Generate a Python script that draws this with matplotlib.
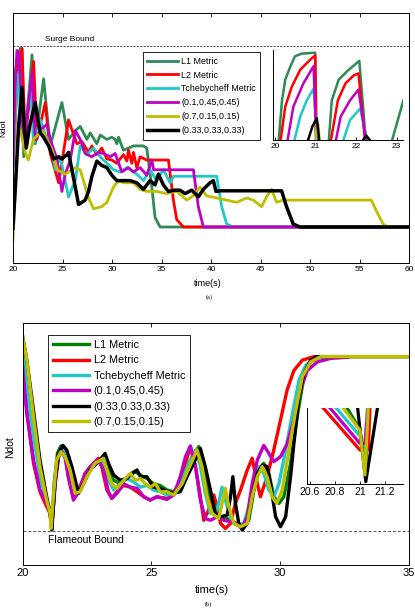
import matplotlib
matplotlib.use("Agg")
import matplotlib.pyplot as plt
import numpy as np

plt.rcParams['font.family'] = ['Liberation Sans', 'DejaVu Sans']

# ---------------- (a) surge case, t in s, Ndot normalised (surge bound = 1) ----------------
a_l1_t = [20.0, 20.24, 20.74, 20.91, 21.08, 21.92, 22.25, 23.09, 23.76, 24.94, 25.61, 26.29, 26.79,
          27.46, 27.80, 28.47, 28.81, 29.48, 29.98, 30.32, 30.49, 30.66, 31.16, 32.17, 33.18, 33.51,
          34.02, 34.35, 34.86, 60.0]
a_l1_y = [0.75, 0.89, 0.99, 0.99, 0.49, 0.96, 0.55, 0.85, 0.54, 0.74, 0.57, 0.61, 0.63,
          0.57, 0.60, 0.55, 0.59, 0.57, 0.58, 0.57, 0.55, 0.58, 0.52, 0.54, 0.54, 0.53,
          0.35, 0.21, 0.166, 0.166]

a_l2_t = [20.0, 20.5, 20.91, 21.24, 22.08, 22.42, 23.26, 23.76, 24.61, 25.61, 26.45, 26.96, 27.63,
          27.97, 28.47, 28.97, 29.48, 29.98, 30.49, 31.16, 31.50, 31.66, 32.00, 32.17, 32.50, 32.84,
          33.51, 35.70, 36.20, 36.54, 37.21, 60.0]
a_l2_y = [0.45, 0.90, 0.99, 0.57, 0.93, 0.57, 0.74, 0.505, 0.37, 0.66, 0.55, 0.56, 0.51,
          0.54, 0.50, 0.53, 0.48, 0.475, 0.46, 0.50, 0.47, 0.52, 0.46, 0.51, 0.44, 0.49,
          0.475, 0.475, 0.29, 0.20, 0.166, 0.166]

a_tc_t = [20.0, 20.3, 20.57, 20.8, 21.08, 21.75, 22.08, 22.76, 23.43, 23.76, 24.27, 24.77, 25.61,
          26.29, 26.79, 27.46, 28.13, 28.81, 29.48, 30.15, 30.82, 31.50, 32.50, 33.18, 33.85, 34.52,
          35.19, 35.87, 36.20, 40.57, 41.08, 41.58, 42.25, 60.0]
a_tc_y = [0.43, 0.75, 0.88, 0.62, 0.55, 0.82, 0.55, 0.66, 0.57, 0.58, 0.43, 0.49, 0.305,
          0.38, 0.54, 0.50, 0.53, 0.49, 0.46, 0.43, 0.42, 0.44, 0.41, 0.38, 0.43, 0.38,
          0.43, 0.37, 0.40, 0.40, 0.26, 0.18, 0.166, 0.166]

a_p1_t = [20.0, 20.24, 20.40, 20.6, 21.08, 21.92, 22.25, 22.92, 23.43, 23.76, 24.44, 24.94, 25.28,
          25.78, 26.29, 26.79, 27.29, 27.97, 28.64, 29.14, 29.82, 30.32, 30.99, 31.66, 32.17, 32.84,
          33.51, 34.02, 34.20, 38.22, 38.72, 39.23, 60.0]
a_p1_y = [0.45, 0.85, 0.98, 0.97, 0.54, 0.88, 0.57, 0.62, 0.64, 0.57, 0.48, 0.33, 0.41,
          0.475, 0.61, 0.57, 0.505, 0.49, 0.51, 0.505, 0.49, 0.505, 0.42, 0.44, 0.42, 0.44,
          0.405, 0.475, 0.43, 0.43, 0.26, 0.166, 0.166]

a_p2_t = [20.0, 20.54, 21.24, 21.55, 22.05, 22.96, 23.97, 24.47, 25.28, 26.29, 26.79, 27.63, 28.13,
          28.97, 29.48, 30.15, 30.66, 31.16, 32.17, 32.84, 33.51, 34.52, 35.53, 36.54, 37.55, 38.22,
          38.89, 39.56, 40.57, 41.58, 42.59, 43.60, 44.27, 45.11, 45.61, 46.12, 46.62, 47.29, 56.20,
          56.71, 57.38, 57.88, 60.0]
a_p2_y = [0.105, 0.65, 0.51, 0.475, 0.57, 0.61, 0.52, 0.43, 0.41, 0.44, 0.43, 0.30, 0.25,
          0.26, 0.28, 0.35, 0.38, 0.37, 0.37, 0.34, 0.33, 0.33, 0.32, 0.33, 0.29, 0.31,
          0.35, 0.31, 0.30, 0.29, 0.28, 0.30, 0.29, 0.26, 0.305, 0.34, 0.28, 0.29, 0.29,
          0.24, 0.18, 0.166, 0.166]

a_p3_t = [20.0, 20.24, 20.57, 20.91, 21.14, 21.34, 21.68, 22.25, 22.59, 22.76, 23.09, 23.60, 24.10,
          24.61, 24.94, 25.45, 25.61, 25.95, 26.29, 26.62, 27.29, 27.63, 27.97, 28.47, 28.97, 29.48,
          29.98, 30.49, 31.16, 31.83, 32.50, 33.18, 33.85, 34.35, 34.69, 35.19, 35.70, 36.37, 36.87,
          37.38, 38.05, 38.72, 39.23, 39.90, 40.24, 40.50, 40.91, 47.13, 47.63, 48.30, 48.97, 60.0]
a_p3_y = [0.16, 0.35, 0.63, 0.81, 0.63, 0.53, 0.63, 0.74, 0.64, 0.60, 0.58, 0.54, 0.48,
          0.49, 0.48, 0.50, 0.51, 0.43, 0.35, 0.27, 0.29, 0.33, 0.40, 0.47, 0.45, 0.44,
          0.405, 0.38, 0.38, 0.38, 0.37, 0.34, 0.38, 0.36, 0.41, 0.36, 0.33, 0.336, 0.336,
          0.32, 0.336, 0.305, 0.34, 0.37, 0.38, 0.33, 0.333, 0.333, 0.26, 0.18, 0.166, 0.166]

# inset of (a): 20-23 s
ia_l1_t = [20.08, 20.17, 20.25, 20.37, 20.49, 20.66, 20.99, 21.01, 21.32, 21.40, 21.57, 21.77, 22.08, 22.25, 22.86, 23.17, 23.3]
ia_l1_y = [-0.05, 0.44, 0.67, 0.81, 0.93, 0.96, 0.97, -0.05, -0.05, 0.44, 0.67, 0.76, 0.88, -0.05, -0.05, 0.44, 0.6]
ia_l2_t = [20.12, 20.25, 20.41, 20.62, 20.86, 20.99, 21.03, 21.36, 21.55, 21.74, 21.95, 22.06, 22.23]
ia_l2_y = [-0.05, 0.37, 0.59, 0.78, 0.89, 0.94, -0.05, -0.05, 0.44, 0.63, 0.72, 0.74, -0.05]
ia_tc_t = [20.45, 20.62, 20.78, 20.95, 21.05, 21.65, 21.85, 22.10, 22.30]
ia_tc_y = [-0.05, 0.26, 0.44, 0.57, -0.05, -0.05, 0.22, 0.35, -0.05]
ia_p1_t = [20.29, 20.45, 20.70, 20.95, 21.02, 21.48, 21.62, 21.85, 22.06, 22.26]
ia_p1_y = [-0.05, 0.37, 0.63, 0.82, -0.05, -0.05, 0.26, 0.44, 0.56, -0.05]
ia_p2_t = [21.00, 21.03, 21.07, 21.10]
ia_p2_y = [-0.05, 0.20, 0.17, -0.05]
ia_p3_t = [20.78, 20.92, 21.03, 21.10, 22.10, 22.25, 22.43]
ia_p3_y = [-0.05, 0.15, 0.24, -0.05, -0.05, 0.05, -0.05]

# ---------------- (b) flameout case, Ndot normalised (flameout bound = 0) ----------------
b_l1_t = [20.0, 20.16, 20.42, 20.67, 20.93, 21.06, 21.13, 21.22, 21.35, 21.48, 21.65, 21.84, 22.08,
          22.30, 22.56, 22.88, 23.14, 23.27, 23.53, 23.79, 24.11, 24.37, 24.57, 24.82, 25.08, 25.34,
          25.60, 25.86, 26.19, 26.51, 26.84, 27.03, 27.22, 27.42, 27.68, 27.94, 28.20, 28.46, 28.78,
          28.98, 29.17, 29.36, 29.56, 29.75, 29.95, 30.14, 30.40, 30.66, 30.92, 31.18, 31.57, 32.09]
b_l1_y = [1.08, 0.92, 0.617, 0.349, 0.176, 0.109, 0.023, 0.27, 0.444, 0.487, 0.444, 0.368, 0.224,
          0.27, 0.358, 0.397, 0.425, 0.368, 0.29, 0.27, 0.31, 0.339, 0.32, 0.30, 0.27, 0.26,
          0.234, 0.224, 0.29, 0.406, 0.483, 0.387, 0.215, 0.10, 0.07, 0.07, 0.042, 0.023, 0.06,
          0.234, 0.349, 0.387, 0.33, 0.195, 0.157, 0.195, 0.387, 0.655, 0.885, 0.97, 1.0, 1.0]

b_l2_t = [20.0, 20.16, 20.42, 20.67, 20.93, 21.06, 21.13, 21.26, 21.39, 21.52, 21.65, 21.78, 21.97,
          22.17, 22.43, 22.75, 22.94, 23.07, 23.27, 23.46, 23.66, 23.92, 24.18, 24.44, 24.70, 24.95,
          25.21, 25.60, 25.86, 26.12, 26.32, 26.51, 26.71, 26.90, 27.03, 27.22, 27.42, 27.55, 27.68,
          27.87, 28.07, 28.26, 28.46, 28.72, 28.91, 29.11, 29.23, 29.49, 29.75, 30.01, 30.27, 30.53,
          30.86, 31.31, 32.61]
b_l2_y = [0.94, 0.69, 0.387, 0.224, 0.138, 0.10, 0.023, 0.27, 0.425, 0.464, 0.425, 0.31, 0.195,
          0.234, 0.33, 0.387, 0.416, 0.368, 0.234, 0.186, 0.224, 0.26, 0.25, 0.224, 0.195, 0.176,
          0.195, 0.186, 0.205, 0.28, 0.387, 0.483, 0.368, 0.195, 0.06, 0.119, 0.205, 0.138, 0.042,
          0.013, 0.042, 0.157, 0.234, 0.349, 0.416, 0.27, 0.195, 0.31, 0.464, 0.636, 0.81, 0.92,
          0.98, 1.0, 1.0]

b_tc_t = [20.0, 20.16, 20.42, 20.67, 20.93, 21.06, 21.13, 21.26, 21.43, 21.58, 21.78, 21.97, 22.10,
          22.36, 22.62, 22.94, 23.07, 23.27, 23.53, 23.79, 24.05, 24.31, 24.57, 24.82, 25.08, 25.34,
          25.60, 25.86, 26.19, 26.45, 26.71, 26.90, 27.09, 27.29, 27.55, 27.74, 27.94, 28.13, 28.33,
          28.59, 28.78, 28.98, 29.17, 29.36, 29.56, 29.75, 29.95, 30.21, 30.47, 30.73, 30.99, 31.37,
          31.96]
b_tc_y = [1.02, 0.83, 0.54, 0.31, 0.176, 0.119, 0.023, 0.31, 0.444, 0.464, 0.387, 0.234, 0.205,
          0.29, 0.358, 0.397, 0.406, 0.31, 0.234, 0.27, 0.30, 0.28, 0.25, 0.26, 0.234, 0.224,
          0.205, 0.205, 0.29, 0.387, 0.464, 0.368, 0.215, 0.10, 0.119, 0.25, 0.138, 0.052, 0.033,
          0.042, 0.138, 0.29, 0.368, 0.33, 0.234, 0.195, 0.27, 0.464, 0.67, 0.866, 0.95, 0.99,
          1.0]

b_p1_t = [20.0, 20.16, 20.42, 20.67, 20.93, 21.06, 21.13, 21.26, 21.39, 21.52, 21.65, 21.78, 21.97,
          22.17, 22.43, 22.75, 22.94, 23.14, 23.33, 23.46, 23.66, 23.92, 24.18, 24.44, 24.70, 24.95,
          25.21, 25.60, 25.86, 26.12, 26.32, 26.51, 26.71, 26.90, 27.09, 27.29, 27.55, 27.81, 28.07,
          28.33, 28.52, 28.72, 28.91, 29.11, 29.36, 29.56, 29.75, 30.01, 30.27, 30.53, 30.79, 31.05,
          31.44, 31.96, 32.61]
b_p1_y = [0.94, 0.67, 0.406, 0.234, 0.157, 0.10, 0.023, 0.27, 0.425, 0.454, 0.416, 0.30, 0.176,
          0.224, 0.33, 0.387, 0.406, 0.349, 0.224, 0.186, 0.215, 0.27, 0.25, 0.243, 0.195, 0.176,
          0.195, 0.18, 0.205, 0.31, 0.425, 0.487, 0.368, 0.176, 0.07, 0.06, 0.08, 0.06, 0.052,
          0.042, 0.023, 0.08, 0.27, 0.406, 0.49, 0.444, 0.397, 0.425, 0.50, 0.636, 0.81, 0.92,
          0.97, 0.99, 0.996]

b_p3_t = [20.0, 20.16, 20.42, 20.67, 20.93, 21.06, 21.13, 21.26, 21.39, 21.56, 21.71, 21.91, 22.17,
          22.36, 22.62, 22.94, 23.20, 23.33, 23.53, 23.79, 24.05, 24.24, 24.44, 24.57, 24.82, 25.08,
          25.34, 25.60, 25.86, 26.12, 26.38, 26.64, 26.90, 27.09, 27.29, 27.48, 27.68, 27.94, 28.07,
          28.16, 28.26, 28.39, 28.52, 28.72, 28.91, 29.11, 29.30, 29.49, 29.62, 29.82, 30.01, 30.21,
          30.40, 30.53, 30.73, 30.92, 31.18, 31.44, 31.83, 35.0]
b_p3_y = [1.115, 0.98, 0.69, 0.406, 0.195, 0.10, 0.004, 0.29, 0.444, 0.49, 0.464, 0.368, 0.215,
          0.27, 0.349, 0.397, 0.444, 0.387, 0.32, 0.29, 0.30, 0.33, 0.349, 0.31, 0.31, 0.25,
          0.243, 0.224, 0.215, 0.224, 0.31, 0.387, 0.473, 0.368, 0.234, 0.10, 0.08, 0.09, 0.195,
          0.31, 0.157, 0.042, 0.004, 0.042, 0.195, 0.33, 0.377, 0.368, 0.27, 0.08, 0.023, 0.08,
          0.31, 0.50, 0.77, 0.90, 0.98, 1.0, 1.0, 1.0]

b_p2_t = [20.0, 20.16, 20.42, 20.67, 20.93, 21.06, 21.10, 21.19, 21.32, 21.48, 21.65, 21.84, 22.04,
          22.23, 22.49, 22.81, 23.14, 23.27, 23.46, 23.66, 23.92, 24.18, 24.37, 24.57, 24.76, 24.95,
          25.15, 25.34, 25.60, 25.86, 26.19, 26.45, 26.77, 26.96, 27.16, 27.35, 27.61, 27.87, 28.00,
          28.20, 28.46, 28.72, 28.91, 29.11, 29.30, 29.49, 29.69, 29.86, 30.08, 30.34, 30.60, 30.86,
          31.18, 31.57, 35.0]
b_p2_y = [1.115, 0.98, 0.655, 0.368, 0.176, 0.10, 0.013, 0.195, 0.406, 0.454, 0.425, 0.349, 0.215,
          0.224, 0.31, 0.387, 0.416, 0.349, 0.27, 0.243, 0.29, 0.33, 0.29, 0.30, 0.27, 0.25,
          0.27, 0.224, 0.224, 0.205, 0.27, 0.358, 0.464, 0.368, 0.195, 0.10, 0.07, 0.243, 0.138,
          0.042, 0.023, 0.042, 0.195, 0.31, 0.368, 0.31, 0.195, 0.157, 0.234, 0.464, 0.69, 0.885,
          0.97, 1.0, 1.0]

# inset of (b): around 21 s
ib_l1_t = [20.86, 21.00, 21.045, 21.07]
ib_l1_y = [1.1, 0.72, 0.15, 1.1]
ib_l2_t = [20.654, 21.00, 21.067, 21.083]
ib_l2_y = [1.1, 0.447, 0.447, 1.1]
ib_tc_t = [20.76, 21.005, 21.035, 21.045, 21.064]
ib_tc_y = [1.1, 0.62, 0.33, 0.62, 1.1]
ib_p1_t = [20.71, 21.00, 21.04, 21.07]
ib_p1_y = [1.1, 0.535, 0.535, 1.1]
ib_p3_t = [20.975, 21.047, 21.15]
ib_p3_y = [1.1, 0.03, 1.1]
ib_p2_t = [20.82, 21.00, 21.04, 21.07]
ib_p2_y = [1.1, 0.71, 0.12, 1.1]

a_labels = ['L1 Metric', 'L2 Metric', 'Tchebycheff Metric', '(0.1,0.45,0.45)',
            '(0.7,0.15,0.15)', '(0.33,0.33,0.33)']
a_colors = ['#2e8b57', '#ff0000', '#20c8c8', '#c000c0', '#bfbf00', '#000000']
b_labels = ['L1 Metric', 'L2 Metric', 'Tchebycheff Metric', '(0.1,0.45,0.45)',
            '(0.33,0.33,0.33)', '(0.7,0.15,0.15)']
b_colors = ['#008000', '#ff0000', '#20c8c8', '#c000c0', '#000000', '#bfbf00']


def caixa(ax, tam):
    ax.tick_params(direction='in', length=3, width=0.6, top=True, labelsize=tam, pad=2.5)
    ax.set_yticks([])
    for s in ax.spines.values():
        s.set_linewidth(0.7)


def inset_style(ax, tam):
    ax.spines['top'].set_visible(False)
    ax.spines['right'].set_visible(False)
    for s in ax.spines.values():
        s.set_linewidth(0.7)
    ax.set_yticks([])
    ax.tick_params(direction='in', length=2, width=0.6, labelsize=tam, pad=2)
    ax.patch.set_alpha(0)


fig = plt.figure(figsize=(4.15, 6.16), dpi=100)

# ---- painel (a) ----
ax1 = fig.add_axes([13 / 415, 1 - 263 / 616, 396 / 415, 250 / 616])
series_a = [(a_l1_t, a_l1_y), (a_l2_t, a_l2_y), (a_tc_t, a_tc_y), (a_p1_t, a_p1_y),
            (a_p2_t, a_p2_y), (a_p3_t, a_p3_y)]
larg_a = [2.0, 2.0, 2.0, 2.0, 2.0, 2.5]
for (t, y), c, lab, lw in zip(series_a, a_colors, a_labels, larg_a):
    ax1.plot(t, y, color=c, lw=lw, label=lab)
ax1.axhline(1.0, color='#333333', lw=0.6, ls=(0, (2.5, 1.5)))
ax1.text(23.26, 1.03, 'Surge Bound', fontsize=6, va='center', ha='left')
ax1.set_xlim(20, 60)
ax1.set_ylim(0, 1.153)
ax1.set_xticks(np.arange(20, 61, 5))
caixa(ax1, 6)
ax1.legend(loc='upper left', bbox_to_anchor=(0.328, 0.843), borderaxespad=0, fontsize=6.4,
           handlelength=3.4, labelspacing=0.55, handletextpad=0.4, borderpad=0.5,
           fancybox=False, framealpha=1, edgecolor='black').get_frame().set_linewidth(0.6)

ins1 = fig.add_axes([272.7 / 415, 1 - 140 / 616, 130.3 / 415, 90 / 616])
series_ia = [(ia_l1_t, ia_l1_y), (ia_l2_t, ia_l2_y), (ia_tc_t, ia_tc_y), (ia_p1_t, ia_p1_y),
             (ia_p2_t, ia_p2_y), (ia_p3_t, ia_p3_y)]
for (t, y), c in zip(series_ia, a_colors):
    ins1.plot(t, y, color=c, lw=1.8)
ins1.set_xlim(19.94, 23.16)
ins1.set_ylim(0.0, 1.0)
ins1.set_xticks([20, 21, 22, 23])
inset_style(ins1, 6)

fig.text(4 / 415, 1 - 128 / 616, 'Ndot', rotation=90, fontsize=6, ha='center', va='center')
fig.text(208 / 415, 1 - 283 / 616, 'time(s)', fontsize=6.5, ha='center', va='center')
fig.text(209 / 415, 1 - 297 / 616, '(a)', fontsize=4.5, ha='center', va='center',
         family='Liberation Serif')

# ---- painel (b) ----
ax2 = fig.add_axes([22.7 / 415, 1 - 565 / 616, 386.3 / 415, 242.3 / 616])
series_b = [(b_l1_t, b_l1_y), (b_l2_t, b_l2_y), (b_tc_t, b_tc_y), (b_p1_t, b_p1_y),
            (b_p3_t, b_p3_y), (b_p2_t, b_p2_y)]
for (t, y), c, lab in zip(series_b, b_colors, b_labels):
    ax2.plot(t, y, color=c, lw=2.4, label=lab)
ax2.axhline(0.0, color='#555555', lw=0.7, ls=(0, (3, 2)))
ax2.text(21.0, -0.054, 'Flameout Bound', fontsize=7.5, va='center', ha='left')
ax2.set_xlim(20, 35)
ax2.set_ylim(-0.197, 1.195)
ax2.set_xticks([20, 25, 30, 35])
caixa(ax2, 8)
ax2.legend(loc='upper left', bbox_to_anchor=(0.0655, 0.949), borderaxespad=0, fontsize=7.8,
           handlelength=3.3, labelspacing=0.5, handletextpad=0.45, borderpad=0.45,
           fancybox=False, framealpha=1, edgecolor='black').get_frame().set_linewidth(0.6)

ins2 = fig.add_axes([306.7 / 415, 1 - 484 / 616, 96.3 / 415, 76 / 616])
series_ib = [(ib_l1_t, ib_l1_y), (ib_l2_t, ib_l2_y), (ib_tc_t, ib_tc_y), (ib_p1_t, ib_p1_y),
             (ib_p3_t, ib_p3_y), (ib_p2_t, ib_p2_y)]
for (t, y), c in zip(series_ib, b_colors):
    ins2.plot(t, y, color=c, lw=2.3)
ins2.set_xlim(20.574, 21.345)
ins2.set_ylim(0, 1.0)
ins2.set_xticks([20.6, 20.8, 21.0, 21.2])
ins2.set_xticklabels(['20.6', '20.8', '21', '21.2'])
inset_style(ins2, 7.5)

fig.text(10 / 415, 1 - 447 / 616, 'Ndot', rotation=90, fontsize=7.5, ha='center', va='center')
fig.text(212 / 415, 1 - 590 / 616, 'time(s)', fontsize=8, ha='center', va='center')
fig.text(208 / 415, 1 - 604 / 616, '(b)', fontsize=4.5, ha='center', va='center',
         family='Liberation Serif')

plt.savefig('out.png', dpi=100)
